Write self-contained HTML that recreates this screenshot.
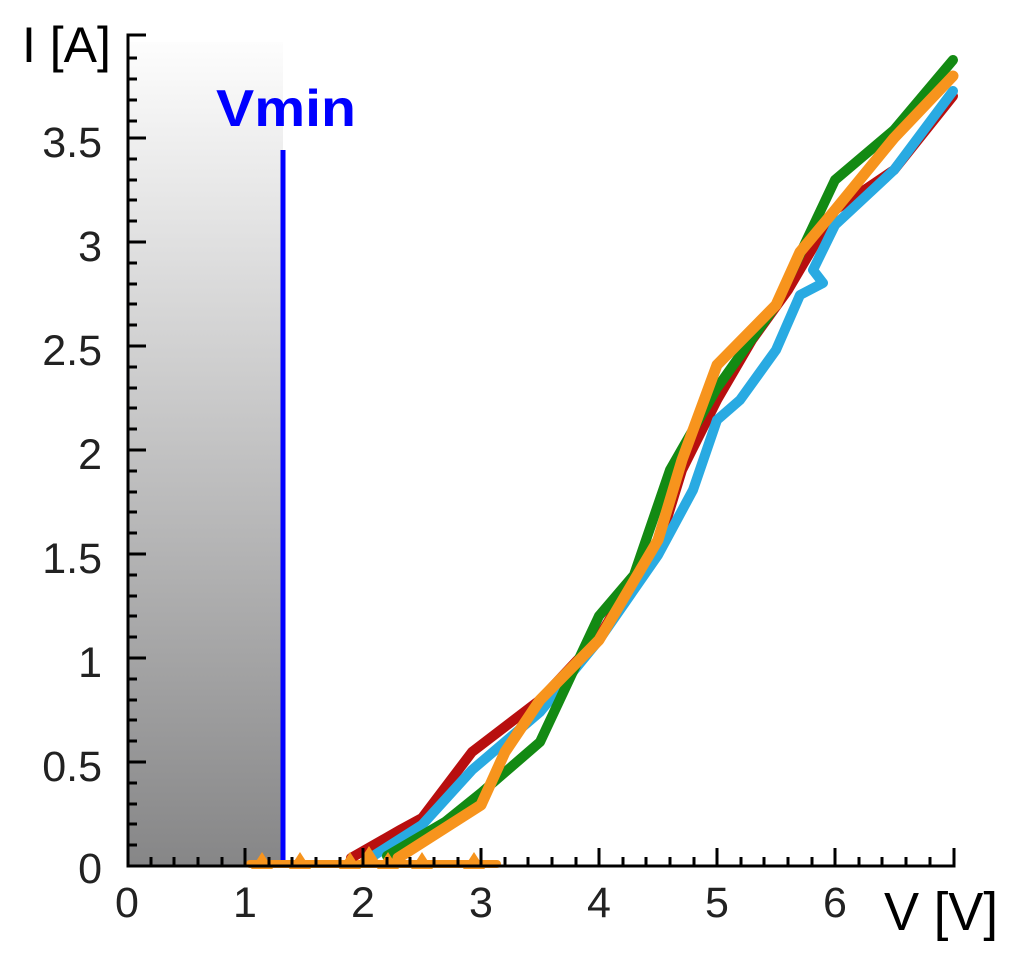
<!DOCTYPE html><html><head><style>body{margin:0;background:#fff}svg{display:block}text{font-family:"Liberation Sans",sans-serif}</style></head><body>
<svg width="1014" height="964" viewBox="0 0 1014 964">
<defs><linearGradient id="g" x1="0" y1="0" x2="0" y2="1"><stop offset="0" stop-color="#fdfdfd"/><stop offset="1" stop-color="#868687"/></linearGradient></defs>
<rect x="128" y="42" width="155" height="824" fill="url(#g)"/>
<line x1="283" y1="150" x2="283" y2="866" stroke="#0000ff" stroke-width="5"/>
<text x="216" y="126" font-size="52" font-weight="bold" fill="#0000ff" textLength="140" lengthAdjust="spacingAndGlyphs">Vmin</text>
<g fill="none" stroke-linejoin="round" stroke-linecap="round">
<polyline stroke="#f7941d" stroke-width="8" points="250,864 497,864"/>
<polyline stroke="#b80f0f" stroke-width="10" points="351,858 400,830 422,818 472,752 540,700 599,637 634,578 658,548 682,470 717,400 752,340 788,290 835,210 894,170 953,96"/>
<polyline stroke="#29aae2" stroke-width="10" points="370,858 422,825 472,770 540,712 599,640 658,555 693,490 717,420 740,400 776,350 800,295 823,283 813,270 835,225 894,170 953,91"/>
<polyline stroke="#138a13" stroke-width="10" points="387,856 445,822 481,793 540,742 599,616 634,575 670,470 717,388 776,305 835,180 894,130 953,60"/>
<polyline stroke="#f7941d" stroke-width="11" points="398,858 481,805 505,752 540,700 599,640 658,540 682,460 717,365 776,305 800,252 835,210 894,138 953,76"/>
</g>
<g fill="#f7941d"><path d="M262,852l-11,17h22z"/><path d="M300,852l-11,17h22z"/><path d="M350,852l-11,17h22z"/><path d="M388,852l-11,17h22z"/><path d="M422,852l-11,17h22z"/><path d="M474,852l-11,17h22z"/><path d="M369,846l-11,17h22z"/></g>
<g stroke="#000" stroke-width="3" fill="none">
<polyline points="146,35 128,35 128,866 954,866 954,848"/>
<path d="M128,138h18M128,242h18M128,346h18M128,450h18M128,554h18M128,658h18M128,762h18M128,58h9M128,79h9M128,100h9M128,121h9M128,159h9M128,180h9M128,200h9M128,221h9M128,263h9M128,284h9M128,304h9M128,325h9M128,367h9M128,388h9M128,408h9M128,429h9M128,471h9M128,492h9M128,512h9M128,533h9M128,575h9M128,596h9M128,616h9M128,637h9M128,679h9M128,700h9M128,720h9M128,741h9M128,783h9M128,804h9M128,824h9M128,845h9"/>
<path d="M245,866v-18M363,866v-18M481,866v-18M599,866v-18M717,866v-18M835,866v-18"/>
<path d="M151,866v-9M174,866v-9M198,866v-9M222,866v-9M269,866v-9M292,866v-9M316,866v-9M340,866v-9M387,866v-9M410,866v-9M434,866v-9M458,866v-9M505,866v-9M528,866v-9M552,866v-9M576,866v-9M623,866v-9M646,866v-9M670,866v-9M694,866v-9M741,866v-9M764,866v-9M788,866v-9M812,866v-9M859,866v-9M882,866v-9M906,866v-9M930,866v-9"/>
</g>
<g font-size="43" fill="#222" text-anchor="end">
<text x="102" y="157">3.5</text><text x="102" y="261">3</text><text x="102" y="365">2.5</text><text x="102" y="469">2</text><text x="102" y="573">1.5</text><text x="102" y="677">1</text><text x="102" y="781">0.5</text><text x="102" y="883">0</text></g>
<g font-size="43" fill="#222" text-anchor="middle">
<text x="127" y="917">0</text><text x="245" y="917">1</text><text x="363" y="917">2</text><text x="481" y="917">3</text><text x="599" y="917">4</text><text x="717" y="917">5</text><text x="835" y="917">6</text></g>
<text x="22" y="62" font-size="50" fill="#000">I [A]</text>
<text x="884" y="930" font-size="54" fill="#000" textLength="114" lengthAdjust="spacingAndGlyphs">V [V]</text>
</svg></body></html>
